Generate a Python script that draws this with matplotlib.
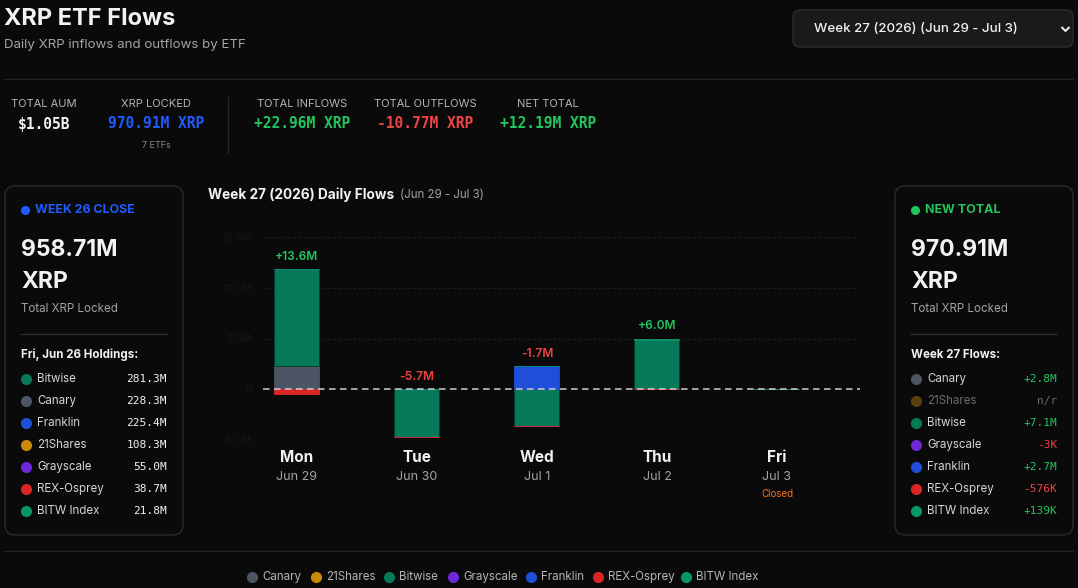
import matplotlib
matplotlib.use("Agg")
import matplotlib.pyplot as plt
from matplotlib.patches import FancyBboxPatch
from matplotlib.transforms import blended_transform_factory
import numpy as np

# ---------------- data ----------------
days = ["Mon", "Tue", "Wed", "Thu", "Fri"]
dates = ["Jun 29", "Jun 30", "Jul 1", "Jul 2", "Jul 3"]
closed = [False, False, False, False, True]

series_names = ["Canary", "21Shares", "Bitwise", "Grayscale", "Franklin", "REX-Osprey", "BITW Index"]
series_colors = ["#4b5563", "#ca8a04", "#067a58", "#6d28d9", "#1f4fd8", "#dc2626", "#059669"]

canary = [2.8, 0, 0, 0, 0]
shares21 = [0, 0, 0, 0, 0]
bitwise = [11.38, -5.7, -4.4, 5.82, 0]
grayscale = [0, 0, -0.003, 0, 0]
franklin = [0, 0, 2.7, 0, 0]
rex_osprey = [-0.576, 0, 0, 0, 0]
bitw_index = [0, 0, 0, 0.139, 0]
series_values = [canary, shares21, bitwise, grayscale, franklin, rex_osprey, bitw_index]

yticks = [-6, 0, 6, 12, 18]
ytick_labels = ["-6.0M", "0", "6.0M", "12.0M", "18.0M"]

stats_labels = ["TOTAL AUM", "XRP LOCKED", "TOTAL INFLOWS", "TOTAL OUTFLOWS", "NET TOTAL"]
stats_values = ["$1.05B", "970.91M XRP", "+22.96M XRP", "-10.77M XRP", "+12.19M XRP"]

hold_names = ["Bitwise", "Canary", "Franklin", "21Shares", "Grayscale", "REX-Osprey", "BITW Index"]
hold_colors = ["#067a58", "#4b5563", "#1f4fd8", "#ca8a04", "#6d28d9", "#dc2626", "#059669"]
hold_values = ["281.3M", "228.3M", "225.4M", "108.3M", "55.0M", "38.7M", "21.8M"]

flow_names = ["Canary", "21Shares", "Bitwise", "Grayscale", "Franklin", "REX-Osprey", "BITW Index"]
flow_colors = ["#4b5563", "#5a4010", "#067a58", "#6d28d9", "#1f4fd8", "#dc2626", "#059669"]
flow_values = ["+2.8M", "n/r", "+7.1M", "-3K", "+2.7M", "-576K", "+139K"]

# ---------------- style ----------------
BG = "#0a0a0a"
WHITE = "#f2f2f2"
GRAY = "#a3a3a3"
GREEN = "#22c55e"
RED = "#ef4444"
BLUE = "#1f5cff"
SANS = ["Inter", "DejaVu Sans"]
MONO = ["DejaVu Sans Mono"]
plt.rcParams["font.family"] = SANS

W, H = 1078, 588
fig = plt.figure(figsize=(W / 100, H / 100), dpi=100, facecolor=BG)

# overlay axes in pixel coordinates
ov = fig.add_axes([0, 0, 1, 1], zorder=0)
ov.set_xlim(0, W)
ov.set_ylim(H, 0)
ov.axis("off")
ov.set_facecolor(BG)

def T(x, y, s, **kw):
    kw.setdefault("va", "center")
    kw.setdefault("color", WHITE)
    return ov.text(x, y, s, **kw)

# header
T(4, 19, "XRP ETF Flows", fontsize=17, fontweight="bold")
T(4, 45, "Daily XRP inflows and outflows by ETF", fontsize=9.6, color=GRAY)

# dropdown
ov.add_patch(FancyBboxPatch((793, 10), 280, 37, boxstyle="round,pad=0,rounding_size=7",
                            fc="#1a1a1a", ec="#2c2c2c", lw=1))
T(814, 29, "Week 27 (2026) (Jun 29 - Jul 3)", fontsize=9.6, fontweight="medium")
ov.plot([1062, 1065.5, 1069], [27.5, 31, 27.5], color=WHITE, lw=1.4, solid_capstyle="round")

# separators
ov.plot([4, 1073], [79, 79], color="#222222", lw=1)
ov.plot([228, 228], [97, 153], color="#262626", lw=1)
ov.plot([4, 1073], [551, 551], color="#222222", lw=1)

# stats row
stat_x = [44, 156, 302, 425, 548]
stat_colors = [WHITE, BLUE, GREEN, RED, GREEN]
for x, lab, val, c in zip(stat_x, stats_labels, stats_values, stat_colors):
    T(x, 104, lab, fontsize=8.0, color="#b5b5b5", ha="center")
    T(x, 124, val, fontsize=10.5, color=c, ha="center", fontweight="bold", family=MONO)
T(156, 146, "7 ETFs", fontsize=6.5, color="#8a8a8a", ha="center")

# side panels
def panel(x0, x1, dot_color, head, head_color, big, sub, list_title,
          names, colors, values, val_colors, name_colors):
    ov.add_patch(FancyBboxPatch((x0, 186), x1 - x0, 349, boxstyle="round,pad=0,rounding_size=10",
                                fc=BG, ec="#2a2a2a", lw=1))
    lx = x0 + 16
    ov.plot([lx + 4], [210], "o", color=dot_color, ms=5.5)
    T(lx + 14, 210, head, fontsize=8.9, fontweight="bold", color=head_color)
    T(lx, 250, big, fontsize=16.5, fontweight="bold")
    T(lx, 282, "XRP", fontsize=16.5, fontweight="bold")
    T(lx, 309, sub, fontsize=8.3, color=GRAY)
    ov.plot([lx, x1 - 16], [334, 334], color="#2a2a2a", lw=1)
    T(lx, 355, list_title, fontsize=8.3, fontweight="bold")
    for i, (n, c, v, vc, nc) in enumerate(zip(names, colors, values, val_colors, name_colors)):
        y = 379 + 22 * i
        ov.plot([lx + 5], [y], "o", color=c, ms=7)
        T(lx + 16, y, n, fontsize=8.3, color=nc)
        T(x1 - 16, y, v, fontsize=8, color=vc, ha="right", family=MONO)

panel(5, 183, "#1f5cff", "WEEK 26 CLOSE", "#1f5cff", "958.71M", "Total XRP Locked",
      "Fri, Jun 26 Holdings:", hold_names, hold_colors, hold_values,
      [WHITE] * 7, ["#d4d4d4"] * 7)

flow_val_colors = []
for v in flow_values:
    if v.startswith("+"):
        flow_val_colors.append(GREEN)
    elif v.startswith("-"):
        flow_val_colors.append(RED)
    else:
        flow_val_colors.append("#6b6b6b")
flow_name_colors = ["#6b6b6b" if v == "n/r" else "#d4d4d4" for v in flow_values]
panel(895, 1073, GREEN, "NEW TOTAL", GREEN, "970.91M", "Total XRP Locked",
      "Week 27 Flows:", flow_names, flow_colors, flow_values,
      flow_val_colors, flow_name_colors)

# chart title
T(208, 195, "Week 27 (2026) Daily Flows", fontsize=9.8, fontweight="bold")
T(400, 195, "(Jun 29 - Jul 3)", fontsize=8.3, color=GRAY)

# ---------------- chart ----------------
ax_l, ax_r, ax_t, ax_b = 263, 860, 237, 440
ax = fig.add_axes([ax_l / W, 1 - ax_b / H, (ax_r - ax_l) / W, (ax_b - ax_t) / H], zorder=1)
ax.set_facecolor("none")
ax.set_xlim(-0.283, 4.692)
ax.set_ylim(-6, 18)
for s in ax.spines.values():
    s.set_visible(False)
ax.tick_params(axis="both", length=0)
ax.set_xticks([])
ax.set_yticks(yticks)
ax.set_yticklabels(ytick_labels, fontsize=7.5, color="#171717")
ax.tick_params(axis="y", pad=8)
for t in yticks:
    if t != 0:
        ax.axhline(t, color="#1e1e1e", lw=0.9, ls=(0, (2, 2)), zorder=0)

x = np.arange(len(days))
pos_base = np.zeros(len(days))
neg_base = np.zeros(len(days))
bw = 0.375
for vals, c in zip(series_values, series_colors):
    v = np.array(vals, dtype=float)
    pos = np.where(v > 0, v, 0)
    neg = np.where(v < 0, v, 0)
    ec = "#0a3a2a" if c == "#067a58" else c
    if pos.any():
        ax.bar(x, pos, bw, bottom=pos_base, color=c, edgecolor=ec, lw=0.6, zorder=2)
    if neg.any():
        ax.bar(x, neg, bw, bottom=neg_base, color=c, edgecolor=ec, lw=0.6, zorder=2)
    pos_base += pos
    neg_base += neg

ax.axhline(0, color="#d0d0d0", lw=1.1, ls=(0, (4.3, 2.9)), zorder=3)

net = np.sum(np.array(series_values, dtype=float), axis=0)
for i in range(len(days)):
    if closed[i]:
        continue
    top = max(pos_base[i], 0)
    col = GREEN if net[i] >= 0 else RED
    ax.annotate(f"{net[i]:+.1f}M", (x[i], top), xytext=(0, 9), textcoords="offset points",
                ha="center", va="center", fontsize=8.6, color=col, fontweight="semibold")

bt = blended_transform_factory(ax.transData, ov.transData)
for i in range(len(days)):
    ax.text(x[i], 458, days[i], transform=bt, ha="center", va="center", fontsize=11,
            fontweight="bold", color=WHITE)
    ax.text(x[i], 477, dates[i], transform=bt, ha="center", va="center", fontsize=9, color=GRAY)
    if closed[i]:
        ax.text(x[i], 494, "Closed", transform=bt, ha="center", va="center", fontsize=7,
                color="#f97316")

# ---------------- legend ----------------
leg_dot_x = [252, 316, 389, 453, 531, 598, 686]
for dx, n, c in zip(leg_dot_x, series_names, series_colors):
    ov.plot([dx], [577], "o", color=c, ms=7)
    T(dx + 10, 577, n, fontsize=8.3, color="#b5b5b5")

fig.savefig("out.png", dpi=100, facecolor=BG)
